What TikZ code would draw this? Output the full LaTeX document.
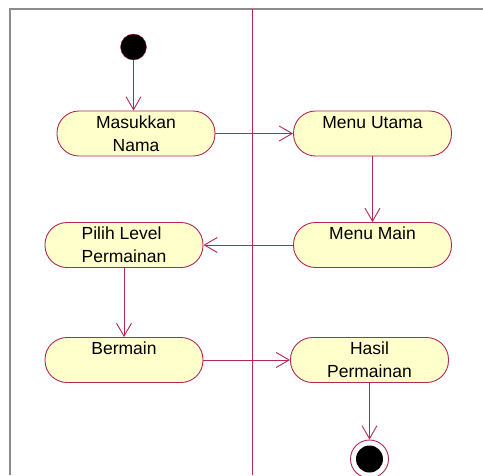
\documentclass[tikz,border=0pt]{standalone}
\usepackage{fontspec}
\setmainfont{Liberation Sans}
\usepackage{tikz}
\usetikzlibrary{arrows.meta}

\definecolor{lane}{HTML}{B0285A}
\definecolor{actfill}{HTML}{FFFFCC}
\definecolor{framegray}{HTML}{8C8C8C}

\begin{document}
\begin{tikzpicture}[x=1pt,y=1pt,
    act/.style={rectangle,rounded corners=22pt,draw=lane,fill=actfill,line width=0.9pt,
      minimum width=158pt,minimum height=45pt,inner sep=1pt,align=center,
      font=\fontsize{17.5}{22.7}\selectfont},
    flow/.style={draw=lane,line width=0.9pt,-{Straight Barb[length=13pt,width=15pt]}}]
    \useasboundingbox (0,0) rectangle (483,-475);
    % frame and swimlane
    \draw[framegray,line width=2pt] (10,-475) |- (483,-9);
    \draw[lane,line width=0.9pt] (252,-9) -- (252,-475);
    % start and end
    \node[circle,draw=lane,fill=black,minimum size=26pt,inner sep=0pt] (s) at (133.5,-47) {};
    \node[circle,draw=lane,fill=white,line width=0.9pt,minimum size=38pt,inner sep=0pt] (t) at (369.5,-459) {};
    \fill[black] (t.center) circle (13.5pt);
    % activities
    \node[act] (mn) at (136,-133.5) {Masukkan\\Nama};
    \node[act] (mu) at (372.5,-133.5) {Menu Utama\\~};
    \node[act] (mm) at (372.5,-245) {Menu Main\\~};
    \node[act,align=left] (pl) at (124,-245) {Pilih Level\\Permainan};
    \node[act] (bm) at (124,-360) {Bermain\\~};
    \node[act] (hp) at (369.5,-360) {Hasil\\Permainan};
    % transitions
    \draw[flow] (s) -- (s |- mn.north);
    \draw[flow] (mn) -- (mu);
    \draw[flow] (mu) -- (mm);
    \draw[flow] (mm) -- (pl);
    \draw[flow] (pl) -- (bm);
    \draw[flow] (bm) -- (hp);
    \draw[flow] (hp) -- (t);
\end{tikzpicture}
\end{document}
